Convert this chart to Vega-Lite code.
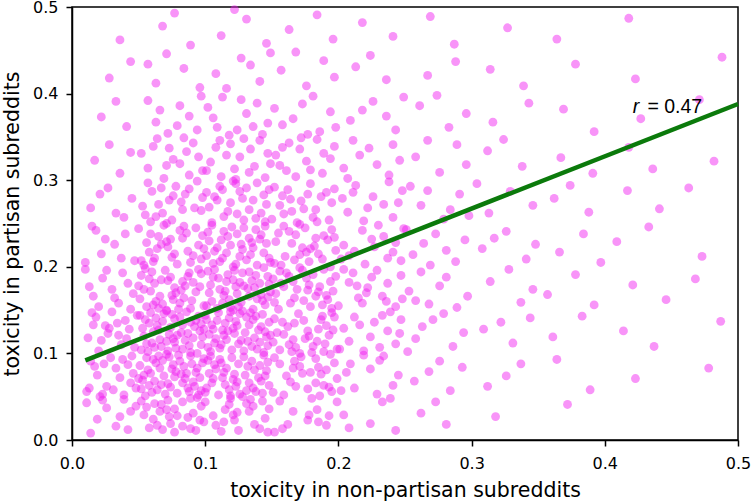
{
"$schema": "https://vega.github.io/schema/vega-lite/v6.json",
"width": 666, "height": 433,
"autosize": {"type": "none"},
"padding": {"left": 72, "top": 7, "right": 14, "bottom": 63},
"background": "white",
"config": {"view": {"stroke": "black", "strokeWidth": 1.5}, "font": "DejaVu Sans"},
"datasets": {
"pts": [
{"x":0.042,"y":0.012},{"x":0.023,"y":0.046},{"x":0.036,"y":0.027},{"x":0.014,"y":0.008},{"x":0.048,"y":0.039},{"x":0.019,"y":0.024},{"x":0.044,"y":0.033},{"x":0.011,"y":0.043},{"x":0.033,"y":0.016},{"x":0.026,"y":0.037},{"x":0.039,"y":0.047},
{"x":0.062,"y":0.042},{"x":0.096,"y":0.023},{"x":0.077,"y":0.036},{"x":0.058,"y":0.014},{"x":0.089,"y":0.048},{"x":0.054,"y":0.029},{"x":0.074,"y":0.019},{"x":0.083,"y":0.044},{"x":0.093,"y":0.011},{"x":0.066,"y":0.033},{"x":0.087,"y":0.026},{"x":0.097,"y":0.039},{"x":0.064,"y":0.017},{"x":0.072,"y":0.046},{"x":0.099,"y":0.021},{"x":0.077,"y":0.009},{"x":0.091,"y":0.031},{"x":0.056,"y":0.038},{"x":0.061,"y":0.024},{"x":0.089,"y":0.013},{"x":0.052,"y":0.045},{"x":0.079,"y":0.028},{"x":0.071,"y":0.035},{"x":0.083,"y":0.016},{"x":0.067,"y":0.041},{"x":0.073,"y":0.027},{"x":0.094,"y":0.049},{"x":0.068,"y":0.012},
{"x":0.118,"y":0.041},{"x":0.148,"y":0.036},{"x":0.125,"y":0.011},{"x":0.136,"y":0.039},{"x":0.121,"y":0.029},{"x":0.143,"y":0.045},{"x":0.114,"y":0.021},{"x":0.133,"y":0.033},{"x":0.108,"y":0.017},{"x":0.147,"y":0.009},{"x":0.122,"y":0.023},{"x":0.100,"y":0.044},{"x":0.137,"y":0.018},{"x":0.115,"y":0.035},{"x":0.106,"y":0.028},{"x":0.141,"y":0.013},{"x":0.119,"y":0.048},{"x":0.131,"y":0.042},{"x":0.124,"y":0.032},{"x":0.145,"y":0.025},{"x":0.112,"y":0.010},{"x":0.134,"y":0.047},
{"x":0.178,"y":0.029},{"x":0.156,"y":0.045},{"x":0.185,"y":0.021},{"x":0.166,"y":0.033},{"x":0.191,"y":0.017},{"x":0.152,"y":0.009},{"x":0.177,"y":0.023},{"x":0.199,"y":0.044},{"x":0.162,"y":0.018},{"x":0.184,"y":0.035},{"x":0.193,"y":0.028},{"x":0.158,"y":0.013},{"x":0.180,"y":0.048},
{"x":0.208,"y":0.014},{"x":0.239,"y":0.048},{"x":0.204,"y":0.029},{"x":0.224,"y":0.019},{"x":0.233,"y":0.044},{"x":0.243,"y":0.011},
{"x":0.262,"y":0.031},{"x":0.281,"y":0.018},{"x":0.273,"y":0.044},{"x":0.318,"y":0.027},{"x":0.372,"y":0.041},
{"x":0.042,"y":0.087},{"x":0.023,"y":0.053},{"x":0.036,"y":0.072},{"x":0.014,"y":0.091},{"x":0.048,"y":0.060},{"x":0.029,"y":0.095},{"x":0.019,"y":0.075},{"x":0.044,"y":0.066},{"x":0.011,"y":0.056},{"x":0.033,"y":0.083},{"x":0.026,"y":0.062},{"x":0.039,"y":0.052},{"x":0.017,"y":0.085},{"x":0.046,"y":0.077},{"x":0.021,"y":0.050},{"x":0.031,"y":0.058},{"x":0.038,"y":0.093},{"x":0.024,"y":0.088},{"x":0.013,"y":0.060},{"x":0.045,"y":0.097},
{"x":0.057,"y":0.081},{"x":0.092,"y":0.062},{"x":0.073,"y":0.096},{"x":0.086,"y":0.077},{"x":0.064,"y":0.058},{"x":0.098,"y":0.089},{"x":0.053,"y":0.069},{"x":0.079,"y":0.054},{"x":0.069,"y":0.074},{"x":0.094,"y":0.083},{"x":0.061,"y":0.093},{"x":0.083,"y":0.066},{"x":0.076,"y":0.087},{"x":0.055,"y":0.051},{"x":0.089,"y":0.097},{"x":0.067,"y":0.064},{"x":0.096,"y":0.072},{"x":0.071,"y":0.099},{"x":0.059,"y":0.077},{"x":0.081,"y":0.091},{"x":0.051,"y":0.086},{"x":0.088,"y":0.056},{"x":0.074,"y":0.061},{"x":0.063,"y":0.089},{"x":0.095,"y":0.052},{"x":0.078,"y":0.079},{"x":0.056,"y":0.095},{"x":0.085,"y":0.071},{"x":0.066,"y":0.083},{"x":0.091,"y":0.067},{"x":0.052,"y":0.059},{"x":0.077,"y":0.073},{"x":0.099,"y":0.094},{"x":0.062,"y":0.068},{"x":0.084,"y":0.085},{"x":0.070,"y":0.053},{"x":0.093,"y":0.078},{"x":0.058,"y":0.063},{"x":0.080,"y":0.098},{"x":0.068,"y":0.092},{"x":0.097,"y":0.057},{"x":0.075,"y":0.082},{"x":0.054,"y":0.075},{"x":0.087,"y":0.060},{"x":0.065,"y":0.097},{"x":0.090,"y":0.088},{"x":0.072,"y":0.065},{"x":0.060,"y":0.055},{"x":0.082,"y":0.076},{"x":0.050,"y":0.071},
{"x":0.142,"y":0.068},{"x":0.107,"y":0.087},{"x":0.126,"y":0.053},{"x":0.113,"y":0.072},{"x":0.135,"y":0.091},{"x":0.101,"y":0.060},{"x":0.146,"y":0.080},{"x":0.120,"y":0.095},{"x":0.130,"y":0.075},{"x":0.105,"y":0.066},{"x":0.138,"y":0.056},{"x":0.116,"y":0.083},{"x":0.123,"y":0.062},{"x":0.144,"y":0.098},{"x":0.110,"y":0.052},{"x":0.132,"y":0.085},{"x":0.103,"y":0.077},{"x":0.128,"y":0.050},{"x":0.140,"y":0.072},{"x":0.118,"y":0.058},{"x":0.148,"y":0.063},{"x":0.111,"y":0.093},{"x":0.125,"y":0.088},{"x":0.136,"y":0.060},{"x":0.104,"y":0.097},{"x":0.121,"y":0.070},{"x":0.143,"y":0.054},{"x":0.114,"y":0.078},{"x":0.133,"y":0.066},{"x":0.108,"y":0.082},{"x":0.147,"y":0.090},{"x":0.122,"y":0.076},{"x":0.100,"y":0.055},{"x":0.137,"y":0.081},{"x":0.115,"y":0.064},{"x":0.129,"y":0.096},{"x":0.106,"y":0.071},{"x":0.141,"y":0.086},{"x":0.119,"y":0.051},{"x":0.131,"y":0.057},{"x":0.102,"y":0.092},{"x":0.124,"y":0.067},{"x":0.145,"y":0.074},{"x":0.112,"y":0.089},
{"x":0.183,"y":0.094},{"x":0.193,"y":0.061},{"x":0.166,"y":0.083},{"x":0.187,"y":0.076},{"x":0.151,"y":0.055},{"x":0.197,"y":0.089},{"x":0.164,"y":0.067},{"x":0.172,"y":0.096},{"x":0.199,"y":0.071},{"x":0.177,"y":0.059},{"x":0.191,"y":0.081},{"x":0.186,"y":0.051},{"x":0.156,"y":0.088},{"x":0.161,"y":0.074},{"x":0.189,"y":0.063},{"x":0.152,"y":0.095},{"x":0.179,"y":0.078},{"x":0.195,"y":0.056},{"x":0.171,"y":0.085},{"x":0.183,"y":0.066},{"x":0.167,"y":0.091},{"x":0.159,"y":0.052},{"x":0.173,"y":0.077},{"x":0.194,"y":0.099},{"x":0.168,"y":0.062},{"x":0.185,"y":0.084},
{"x":0.229,"y":0.053},{"x":0.206,"y":0.078},{"x":0.241,"y":0.063},{"x":0.219,"y":0.098},{"x":0.231,"y":0.092},{"x":0.202,"y":0.057},{"x":0.224,"y":0.082},{"x":0.245,"y":0.075},{"x":0.212,"y":0.060},{"x":0.234,"y":0.097},{"x":0.209,"y":0.088},
{"x":0.257,"y":0.068},{"x":0.276,"y":0.091},{"x":0.284,"y":0.057},{"x":0.268,"y":0.079},{"x":0.293,"y":0.084},{"x":0.312,"y":0.062},{"x":0.337,"y":0.088},{"x":0.326,"y":0.074},{"x":0.364,"y":0.093},{"x":0.389,"y":0.058},{"x":0.423,"y":0.071},{"x":0.478,"y":0.083},
{"x":0.028,"y":0.129},{"x":0.035,"y":0.121},{"x":0.016,"y":0.133},{"x":0.041,"y":0.117},{"x":0.027,"y":0.123},{"x":0.049,"y":0.144},{"x":0.012,"y":0.118},{"x":0.034,"y":0.135},{"x":0.020,"y":0.103},{"x":0.043,"y":0.128},{"x":0.030,"y":0.148},{"x":0.018,"y":0.142},{"x":0.047,"y":0.107},{"x":0.025,"y":0.132},{"x":0.037,"y":0.110},{"x":0.015,"y":0.147},{"x":0.040,"y":0.138},{"x":0.022,"y":0.115},
{"x":0.081,"y":0.142},{"x":0.062,"y":0.107},{"x":0.096,"y":0.126},{"x":0.077,"y":0.113},{"x":0.058,"y":0.135},{"x":0.089,"y":0.101},{"x":0.069,"y":0.146},{"x":0.054,"y":0.120},{"x":0.074,"y":0.130},{"x":0.083,"y":0.105},{"x":0.093,"y":0.138},{"x":0.066,"y":0.116},{"x":0.087,"y":0.123},{"x":0.051,"y":0.144},{"x":0.097,"y":0.110},{"x":0.064,"y":0.132},{"x":0.072,"y":0.103},{"x":0.099,"y":0.128},{"x":0.077,"y":0.140},{"x":0.091,"y":0.118},{"x":0.086,"y":0.148},{"x":0.056,"y":0.111},{"x":0.061,"y":0.125},{"x":0.089,"y":0.136},{"x":0.052,"y":0.104},{"x":0.079,"y":0.121},{"x":0.095,"y":0.143},{"x":0.071,"y":0.114},{"x":0.083,"y":0.133},{"x":0.067,"y":0.108},{"x":0.059,"y":0.147},{"x":0.073,"y":0.122},{"x":0.094,"y":0.100},{"x":0.068,"y":0.137},{"x":0.085,"y":0.115},{"x":0.053,"y":0.129},{"x":0.078,"y":0.106},{"x":0.063,"y":0.141},{"x":0.098,"y":0.119},{"x":0.092,"y":0.131},{"x":0.057,"y":0.102},{"x":0.082,"y":0.124},{"x":0.075,"y":0.145},{"x":0.060,"y":0.112},{"x":0.097,"y":0.134},{"x":0.088,"y":0.109},{"x":0.065,"y":0.127},{"x":0.055,"y":0.139},{"x":0.076,"y":0.117},{"x":0.071,"y":0.149},
{"x":0.142,"y":0.131},{"x":0.107,"y":0.112},{"x":0.126,"y":0.146},{"x":0.113,"y":0.127},{"x":0.135,"y":0.108},{"x":0.101,"y":0.139},{"x":0.146,"y":0.119},{"x":0.120,"y":0.104},{"x":0.130,"y":0.124},{"x":0.105,"y":0.133},{"x":0.138,"y":0.143},{"x":0.116,"y":0.116},{"x":0.123,"y":0.137},{"x":0.144,"y":0.101},{"x":0.110,"y":0.147},{"x":0.132,"y":0.114},{"x":0.103,"y":0.122},{"x":0.128,"y":0.149},{"x":0.140,"y":0.127},{"x":0.118,"y":0.141},{"x":0.148,"y":0.136},{"x":0.111,"y":0.106},{"x":0.125,"y":0.111},{"x":0.136,"y":0.139},{"x":0.104,"y":0.102},{"x":0.121,"y":0.129},{"x":0.143,"y":0.145},{"x":0.114,"y":0.121},{"x":0.133,"y":0.133},{"x":0.108,"y":0.117},{"x":0.147,"y":0.109},{"x":0.122,"y":0.123},{"x":0.100,"y":0.144},{"x":0.137,"y":0.118},{"x":0.115,"y":0.135},{"x":0.129,"y":0.103},{"x":0.106,"y":0.128},{"x":0.141,"y":0.113},{"x":0.119,"y":0.148},{"x":0.131,"y":0.142},{"x":0.102,"y":0.107},{"x":0.124,"y":0.132},{"x":0.145,"y":0.125},{"x":0.112,"y":0.110},{"x":0.134,"y":0.147},{"x":0.109,"y":0.138},{"x":0.127,"y":0.115},{"x":0.139,"y":0.105},{"x":0.117,"y":0.126},{"x":0.149,"y":0.121},
{"x":0.189,"y":0.102},{"x":0.167,"y":0.135},{"x":0.196,"y":0.127},{"x":0.171,"y":0.100},{"x":0.159,"y":0.122},{"x":0.181,"y":0.108},{"x":0.151,"y":0.113},{"x":0.188,"y":0.143},{"x":0.174,"y":0.138},{"x":0.163,"y":0.110},{"x":0.195,"y":0.147},{"x":0.178,"y":0.120},{"x":0.156,"y":0.104},{"x":0.185,"y":0.128},{"x":0.166,"y":0.116},{"x":0.191,"y":0.132},{"x":0.152,"y":0.140},{"x":0.177,"y":0.126},{"x":0.199,"y":0.105},{"x":0.162,"y":0.131},{"x":0.184,"y":0.114},{"x":0.170,"y":0.146},{"x":0.193,"y":0.121},{"x":0.158,"y":0.136},{"x":0.180,"y":0.101},{"x":0.168,"y":0.107},{"x":0.197,"y":0.142},{"x":0.175,"y":0.117},{"x":0.154,"y":0.124},{"x":0.187,"y":0.139},{"x":0.165,"y":0.102},{"x":0.190,"y":0.111},
{"x":0.231,"y":0.107},{"x":0.212,"y":0.142},{"x":0.246,"y":0.123},{"x":0.227,"y":0.136},{"x":0.208,"y":0.114},{"x":0.239,"y":0.148},{"x":0.219,"y":0.103},{"x":0.204,"y":0.129},{"x":0.224,"y":0.119},{"x":0.233,"y":0.144},{"x":0.243,"y":0.111},{"x":0.216,"y":0.133},{"x":0.237,"y":0.126},{"x":0.201,"y":0.105},{"x":0.247,"y":0.139},
{"x":0.258,"y":0.117},{"x":0.271,"y":0.139},{"x":0.286,"y":0.108},{"x":0.263,"y":0.131},{"x":0.294,"y":0.124},{"x":0.279,"y":0.146},{"x":0.252,"y":0.102},{"x":0.309,"y":0.128},{"x":0.331,"y":0.112},{"x":0.344,"y":0.141},{"x":0.322,"y":0.136},{"x":0.361,"y":0.119},{"x":0.383,"y":0.143},{"x":0.414,"y":0.126},{"x":0.437,"y":0.108},{"x":0.487,"y":0.137},
{"x":0.042,"y":0.181},{"x":0.026,"y":0.196},{"x":0.013,"y":0.177},{"x":0.035,"y":0.158},{"x":0.046,"y":0.169},{"x":0.020,"y":0.154},{"x":0.030,"y":0.174},{"x":0.038,"y":0.193},{"x":0.016,"y":0.166},{"x":0.023,"y":0.187},{"x":0.044,"y":0.151},{"x":0.010,"y":0.197},{"x":0.032,"y":0.164},
{"x":0.061,"y":0.156},{"x":0.083,"y":0.183},{"x":0.076,"y":0.162},{"x":0.055,"y":0.198},{"x":0.089,"y":0.152},{"x":0.067,"y":0.185},{"x":0.096,"y":0.177},{"x":0.071,"y":0.150},{"x":0.059,"y":0.172},{"x":0.081,"y":0.158},{"x":0.051,"y":0.163},{"x":0.088,"y":0.193},{"x":0.074,"y":0.188},{"x":0.063,"y":0.160},{"x":0.095,"y":0.197},{"x":0.078,"y":0.170},{"x":0.056,"y":0.154},{"x":0.085,"y":0.178},{"x":0.066,"y":0.166},{"x":0.091,"y":0.182},{"x":0.052,"y":0.190},{"x":0.077,"y":0.176},{"x":0.099,"y":0.155},{"x":0.062,"y":0.181},{"x":0.084,"y":0.164},{"x":0.070,"y":0.196},{"x":0.093,"y":0.171},{"x":0.058,"y":0.186},{"x":0.080,"y":0.151},{"x":0.068,"y":0.157},{"x":0.097,"y":0.192},{"x":0.075,"y":0.167},{"x":0.054,"y":0.174},{"x":0.087,"y":0.189},{"x":0.065,"y":0.152},{"x":0.090,"y":0.161},{"x":0.072,"y":0.184},{"x":0.060,"y":0.194},{"x":0.082,"y":0.173},{"x":0.050,"y":0.178},
{"x":0.119,"y":0.153},{"x":0.104,"y":0.179},{"x":0.124,"y":0.169},{"x":0.133,"y":0.194},{"x":0.143,"y":0.161},{"x":0.116,"y":0.183},{"x":0.137,"y":0.176},{"x":0.101,"y":0.155},{"x":0.147,"y":0.189},{"x":0.114,"y":0.167},{"x":0.122,"y":0.196},{"x":0.149,"y":0.171},{"x":0.127,"y":0.159},{"x":0.141,"y":0.181},{"x":0.136,"y":0.151},{"x":0.106,"y":0.188},{"x":0.111,"y":0.174},{"x":0.139,"y":0.163},{"x":0.102,"y":0.195},{"x":0.129,"y":0.178},{"x":0.145,"y":0.156},{"x":0.121,"y":0.185},{"x":0.133,"y":0.166},{"x":0.117,"y":0.191},{"x":0.109,"y":0.152},{"x":0.123,"y":0.177},{"x":0.144,"y":0.199},{"x":0.118,"y":0.162},{"x":0.135,"y":0.184},{"x":0.103,"y":0.170},{"x":0.128,"y":0.193},{"x":0.113,"y":0.158},{"x":0.148,"y":0.180},{"x":0.142,"y":0.168},{"x":0.107,"y":0.197},{"x":0.132,"y":0.175},{"x":0.125,"y":0.154},{"x":0.110,"y":0.187},{"x":0.147,"y":0.165},{"x":0.138,"y":0.190},{"x":0.115,"y":0.172},{"x":0.105,"y":0.160},{"x":0.126,"y":0.182},{"x":0.121,"y":0.150},
{"x":0.157,"y":0.181},{"x":0.192,"y":0.162},{"x":0.173,"y":0.196},{"x":0.186,"y":0.177},{"x":0.164,"y":0.158},{"x":0.198,"y":0.189},{"x":0.153,"y":0.169},{"x":0.179,"y":0.154},{"x":0.169,"y":0.174},{"x":0.194,"y":0.183},{"x":0.161,"y":0.193},{"x":0.183,"y":0.166},{"x":0.176,"y":0.187},{"x":0.155,"y":0.151},{"x":0.189,"y":0.197},{"x":0.167,"y":0.164},{"x":0.196,"y":0.172},{"x":0.171,"y":0.199},{"x":0.159,"y":0.177},{"x":0.181,"y":0.191},{"x":0.151,"y":0.186},{"x":0.188,"y":0.156},{"x":0.174,"y":0.161},{"x":0.163,"y":0.189},{"x":0.195,"y":0.152},{"x":0.178,"y":0.179},{"x":0.156,"y":0.195},{"x":0.185,"y":0.171},{"x":0.166,"y":0.183},{"x":0.191,"y":0.167},{"x":0.152,"y":0.159},{"x":0.177,"y":0.173},
{"x":0.218,"y":0.158},{"x":0.248,"y":0.163},{"x":0.211,"y":0.193},{"x":0.225,"y":0.188},{"x":0.236,"y":0.160},{"x":0.204,"y":0.197},{"x":0.221,"y":0.170},{"x":0.243,"y":0.154},{"x":0.214,"y":0.178},{"x":0.233,"y":0.166},{"x":0.208,"y":0.182},{"x":0.247,"y":0.190},{"x":0.222,"y":0.176},{"x":0.200,"y":0.155},{"x":0.237,"y":0.181},{"x":0.215,"y":0.164},{"x":0.229,"y":0.196},
{"x":0.253,"y":0.172},{"x":0.268,"y":0.157},{"x":0.281,"y":0.188},{"x":0.297,"y":0.166},{"x":0.262,"y":0.194},{"x":0.276,"y":0.178},{"x":0.289,"y":0.153},{"x":0.258,"y":0.161},{"x":0.314,"y":0.183},{"x":0.337,"y":0.159},{"x":0.328,"y":0.197},{"x":0.346,"y":0.174},{"x":0.357,"y":0.168},{"x":0.378,"y":0.191},{"x":0.392,"y":0.156},{"x":0.421,"y":0.179},{"x":0.446,"y":0.162},{"x":0.468,"y":0.186},
{"x":0.018,"y":0.242},{"x":0.047,"y":0.207},{"x":0.025,"y":0.232},{"x":0.037,"y":0.210},{"x":0.015,"y":0.247},{"x":0.040,"y":0.238},{"x":0.022,"y":0.215},{"x":0.010,"y":0.205},{"x":0.032,"y":0.226},
{"x":0.098,"y":0.236},{"x":0.061,"y":0.206},{"x":0.075,"y":0.211},{"x":0.086,"y":0.239},{"x":0.054,"y":0.202},{"x":0.071,"y":0.229},{"x":0.093,"y":0.245},{"x":0.064,"y":0.221},{"x":0.083,"y":0.233},{"x":0.058,"y":0.217},{"x":0.097,"y":0.209},{"x":0.072,"y":0.223},{"x":0.050,"y":0.244},{"x":0.087,"y":0.218},{"x":0.065,"y":0.235},{"x":0.079,"y":0.203},{"x":0.056,"y":0.228},{"x":0.091,"y":0.213},{"x":0.069,"y":0.248},{"x":0.081,"y":0.242},{"x":0.052,"y":0.207},{"x":0.074,"y":0.232},{"x":0.095,"y":0.225},{"x":0.062,"y":0.210},{"x":0.084,"y":0.247},{"x":0.059,"y":0.238},{"x":0.077,"y":0.215},{"x":0.089,"y":0.205},{"x":0.067,"y":0.226},{"x":0.099,"y":0.221},
{"x":0.107,"y":0.218},{"x":0.142,"y":0.237},{"x":0.123,"y":0.203},{"x":0.136,"y":0.222},{"x":0.114,"y":0.241},{"x":0.148,"y":0.210},{"x":0.103,"y":0.230},{"x":0.129,"y":0.245},{"x":0.119,"y":0.225},{"x":0.144,"y":0.216},{"x":0.111,"y":0.206},{"x":0.133,"y":0.233},{"x":0.126,"y":0.212},{"x":0.105,"y":0.248},{"x":0.139,"y":0.202},{"x":0.117,"y":0.235},{"x":0.146,"y":0.227},{"x":0.121,"y":0.200},{"x":0.109,"y":0.222},{"x":0.131,"y":0.208},{"x":0.101,"y":0.213},{"x":0.138,"y":0.243},{"x":0.124,"y":0.238},{"x":0.113,"y":0.210},{"x":0.145,"y":0.247},{"x":0.128,"y":0.220},{"x":0.106,"y":0.204},{"x":0.135,"y":0.228},{"x":0.116,"y":0.216},{"x":0.141,"y":0.232},{"x":0.102,"y":0.240},{"x":0.127,"y":0.226},{"x":0.149,"y":0.205},{"x":0.112,"y":0.231},{"x":0.134,"y":0.214},{"x":0.120,"y":0.246},
{"x":0.189,"y":0.236},{"x":0.152,"y":0.204},{"x":0.179,"y":0.221},{"x":0.195,"y":0.243},{"x":0.171,"y":0.214},{"x":0.183,"y":0.233},{"x":0.167,"y":0.208},{"x":0.159,"y":0.247},{"x":0.173,"y":0.222},{"x":0.194,"y":0.200},{"x":0.168,"y":0.237},{"x":0.185,"y":0.215},{"x":0.153,"y":0.229},{"x":0.178,"y":0.206},{"x":0.163,"y":0.241},{"x":0.198,"y":0.219},{"x":0.192,"y":0.231},{"x":0.157,"y":0.202},{"x":0.182,"y":0.224},{"x":0.175,"y":0.245},{"x":0.160,"y":0.212},{"x":0.197,"y":0.234},{"x":0.188,"y":0.209},{"x":0.165,"y":0.227},{"x":0.155,"y":0.239},{"x":0.176,"y":0.217},{"x":0.171,"y":0.249},
{"x":0.241,"y":0.217},{"x":0.202,"y":0.209},{"x":0.227,"y":0.223},{"x":0.249,"y":0.244},{"x":0.212,"y":0.218},{"x":0.234,"y":0.235},{"x":0.220,"y":0.203},{"x":0.243,"y":0.228},{"x":0.208,"y":0.213},{"x":0.230,"y":0.248},{"x":0.218,"y":0.242},{"x":0.247,"y":0.207},{"x":0.225,"y":0.232},{"x":0.204,"y":0.225},{"x":0.237,"y":0.210},
{"x":0.256,"y":0.214},{"x":0.273,"y":0.238},{"x":0.288,"y":0.206},{"x":0.264,"y":0.227},{"x":0.295,"y":0.231},{"x":0.281,"y":0.219},{"x":0.251,"y":0.243},{"x":0.269,"y":0.202},{"x":0.308,"y":0.221},{"x":0.326,"y":0.241},{"x":0.341,"y":0.209},{"x":0.317,"y":0.233},{"x":0.348,"y":0.226},{"x":0.366,"y":0.217},{"x":0.384,"y":0.238},{"x":0.397,"y":0.205},{"x":0.409,"y":0.229},{"x":0.433,"y":0.246},{"x":0.473,"y":0.212},
{"x":0.014,"y":0.268},{"x":0.027,"y":0.291},{"x":0.039,"y":0.257},{"x":0.045,"y":0.279},{"x":0.021,"y":0.284},{"x":0.033,"y":0.262},
{"x":0.083,"y":0.266},{"x":0.067,"y":0.291},{"x":0.059,"y":0.252},{"x":0.073,"y":0.277},{"x":0.094,"y":0.299},{"x":0.068,"y":0.262},{"x":0.085,"y":0.284},{"x":0.053,"y":0.270},{"x":0.078,"y":0.293},{"x":0.063,"y":0.258},{"x":0.098,"y":0.280},{"x":0.092,"y":0.268},{"x":0.057,"y":0.297},{"x":0.082,"y":0.275},{"x":0.075,"y":0.254},{"x":0.060,"y":0.287},{"x":0.097,"y":0.265},{"x":0.088,"y":0.290},{"x":0.065,"y":0.272},{"x":0.055,"y":0.260},{"x":0.076,"y":0.282},{"x":0.071,"y":0.250},
{"x":0.107,"y":0.281},{"x":0.142,"y":0.262},{"x":0.123,"y":0.296},{"x":0.136,"y":0.277},{"x":0.114,"y":0.258},{"x":0.148,"y":0.289},{"x":0.103,"y":0.269},{"x":0.129,"y":0.254},{"x":0.119,"y":0.274},{"x":0.144,"y":0.283},{"x":0.111,"y":0.293},{"x":0.133,"y":0.266},{"x":0.126,"y":0.287},{"x":0.105,"y":0.251},{"x":0.139,"y":0.297},{"x":0.117,"y":0.264},{"x":0.146,"y":0.272},{"x":0.121,"y":0.299},{"x":0.109,"y":0.277},{"x":0.131,"y":0.291},{"x":0.101,"y":0.286},{"x":0.138,"y":0.256},{"x":0.124,"y":0.261},{"x":0.113,"y":0.289},{"x":0.145,"y":0.252},{"x":0.128,"y":0.279},
{"x":0.193,"y":0.254},{"x":0.164,"y":0.278},{"x":0.183,"y":0.266},{"x":0.158,"y":0.282},{"x":0.197,"y":0.290},{"x":0.172,"y":0.276},{"x":0.150,"y":0.255},{"x":0.187,"y":0.281},{"x":0.165,"y":0.264},{"x":0.179,"y":0.296},{"x":0.156,"y":0.271},{"x":0.191,"y":0.286},{"x":0.169,"y":0.251},{"x":0.181,"y":0.257},{"x":0.152,"y":0.292},{"x":0.174,"y":0.267},{"x":0.195,"y":0.274},{"x":0.162,"y":0.289},{"x":0.184,"y":0.252},{"x":0.159,"y":0.261},{"x":0.177,"y":0.284},
{"x":0.207,"y":0.263},{"x":0.226,"y":0.281},{"x":0.241,"y":0.257},{"x":0.213,"y":0.294},{"x":0.234,"y":0.272},{"x":0.248,"y":0.288},{"x":0.219,"y":0.253},{"x":0.203,"y":0.279},{"x":0.238,"y":0.298},{"x":0.222,"y":0.268},{"x":0.245,"y":0.274},{"x":0.211,"y":0.286},
{"x":0.262,"y":0.271},{"x":0.279,"y":0.255},{"x":0.291,"y":0.284},{"x":0.254,"y":0.293},{"x":0.284,"y":0.266},{"x":0.267,"y":0.288},{"x":0.298,"y":0.259},{"x":0.313,"y":0.262},{"x":0.329,"y":0.287},{"x":0.346,"y":0.271},{"x":0.304,"y":0.296},{"x":0.362,"y":0.279},{"x":0.388,"y":0.263},{"x":0.374,"y":0.294},{"x":0.417,"y":0.288},{"x":0.441,"y":0.267},{"x":0.463,"y":0.291},
{"x":0.017,"y":0.323},{"x":0.036,"y":0.308},{"x":0.028,"y":0.341},{"x":0.044,"y":0.332},
{"x":0.057,"y":0.314},{"x":0.073,"y":0.337},{"x":0.088,"y":0.306},{"x":0.064,"y":0.348},{"x":0.095,"y":0.327},{"x":0.081,"y":0.319},{"x":0.052,"y":0.331},{"x":0.069,"y":0.302},{"x":0.091,"y":0.343},{"x":0.076,"y":0.324},{"x":0.084,"y":0.349},{"x":0.061,"y":0.339},{"x":0.098,"y":0.311},{"x":0.071,"y":0.317},{"x":0.086,"y":0.333},
{"x":0.104,"y":0.321},{"x":0.119,"y":0.342},{"x":0.133,"y":0.309},{"x":0.147,"y":0.331},{"x":0.112,"y":0.304},{"x":0.126,"y":0.327},{"x":0.141,"y":0.346},{"x":0.108,"y":0.338},{"x":0.137,"y":0.316},{"x":0.122,"y":0.313},{"x":0.145,"y":0.303},{"x":0.116,"y":0.329},{"x":0.129,"y":0.348},{"x":0.101,"y":0.311},{"x":0.149,"y":0.319},{"x":0.134,"y":0.336},{"x":0.123,"y":0.301},{"x":0.111,"y":0.346},
{"x":0.156,"y":0.317},{"x":0.171,"y":0.336},{"x":0.188,"y":0.308},{"x":0.163,"y":0.343},{"x":0.194,"y":0.325},{"x":0.179,"y":0.312},{"x":0.153,"y":0.329},{"x":0.184,"y":0.347},{"x":0.168,"y":0.304},{"x":0.197,"y":0.339},{"x":0.176,"y":0.322},{"x":0.161,"y":0.311},{"x":0.189,"y":0.331},{"x":0.172,"y":0.349},{"x":0.158,"y":0.338},
{"x":0.204,"y":0.314},{"x":0.223,"y":0.337},{"x":0.238,"y":0.306},{"x":0.211,"y":0.346},{"x":0.246,"y":0.323},{"x":0.229,"y":0.318},{"x":0.216,"y":0.329},{"x":0.241,"y":0.341},{"x":0.207,"y":0.302},
{"x":0.258,"y":0.327},{"x":0.276,"y":0.309},{"x":0.289,"y":0.341},{"x":0.267,"y":0.346},{"x":0.296,"y":0.318},{"x":0.312,"y":0.334},{"x":0.338,"y":0.316},{"x":0.324,"y":0.347},{"x":0.367,"y":0.326},{"x":0.391,"y":0.308},{"x":0.418,"y":0.338},{"x":0.436,"y":0.313},{"x":0.482,"y":0.322},
{"x":0.022,"y":0.373},{"x":0.041,"y":0.362},{"x":0.033,"y":0.391},
{"x":0.063,"y":0.367},{"x":0.081,"y":0.386},{"x":0.094,"y":0.358},{"x":0.057,"y":0.392},{"x":0.072,"y":0.354},{"x":0.088,"y":0.374},{"x":0.066,"y":0.381},{"x":0.097,"y":0.397},{"x":0.079,"y":0.363},
{"x":0.106,"y":0.372},{"x":0.124,"y":0.358},{"x":0.139,"y":0.389},{"x":0.113,"y":0.396},{"x":0.147,"y":0.366},{"x":0.131,"y":0.377},{"x":0.118,"y":0.352},{"x":0.102,"y":0.384},{"x":0.143,"y":0.353},{"x":0.127,"y":0.393},{"x":0.136,"y":0.362},{"x":0.109,"y":0.361},
{"x":0.158,"y":0.364},{"x":0.173,"y":0.388},{"x":0.186,"y":0.356},{"x":0.194,"y":0.379},{"x":0.166,"y":0.371},{"x":0.181,"y":0.397},{"x":0.152,"y":0.383},{"x":0.177,"y":0.353},{"x":0.198,"y":0.361},
{"x":0.209,"y":0.369},{"x":0.226,"y":0.391},{"x":0.243,"y":0.358},{"x":0.218,"y":0.381},{"x":0.236,"y":0.374},{"x":0.249,"y":0.396},
{"x":0.261,"y":0.386},{"x":0.283,"y":0.361},{"x":0.274,"y":0.398},{"x":0.296,"y":0.377},{"x":0.316,"y":0.367},{"x":0.343,"y":0.389},{"x":0.369,"y":0.382},{"x":0.392,"y":0.356},{"x":0.427,"y":0.371},{"x":0.471,"y":0.393},
{"x":0.028,"y":0.418},{"x":0.044,"y":0.437},
{"x":0.063,"y":0.412},{"x":0.084,"y":0.429},{"x":0.071,"y":0.446},{"x":0.096,"y":0.407},{"x":0.057,"y":0.434},
{"x":0.108,"y":0.423},{"x":0.127,"y":0.441},{"x":0.141,"y":0.414},{"x":0.116,"y":0.406},{"x":0.134,"y":0.433},{"x":0.149,"y":0.447},
{"x":0.157,"y":0.427},{"x":0.176,"y":0.409},{"x":0.189,"y":0.438},{"x":0.168,"y":0.448},{"x":0.197,"y":0.419},
{"x":0.213,"y":0.431},{"x":0.236,"y":0.416},{"x":0.224,"y":0.444},{"x":0.267,"y":0.421},{"x":0.288,"y":0.437},{"x":0.314,"y":0.428},{"x":0.339,"y":0.409},{"x":0.378,"y":0.434},{"x":0.423,"y":0.417},{"x":0.488,"y":0.442},
{"x":0.036,"y":0.462},{"x":0.068,"y":0.478},{"x":0.089,"y":0.456},{"x":0.077,"y":0.493},{"x":0.112,"y":0.467},{"x":0.131,"y":0.486},{"x":0.146,"y":0.458},{"x":0.122,"y":0.497},{"x":0.163,"y":0.474},{"x":0.184,"y":0.491},{"x":0.196,"y":0.463},{"x":0.218,"y":0.482},{"x":0.241,"y":0.466},{"x":0.269,"y":0.489},{"x":0.287,"y":0.457},{"x":0.327,"y":0.476},{"x":0.364,"y":0.463},{"x":0.418,"y":0.487}
],
"fit": [{"x": 0.01, "y": 0.092}, {"x": 0.5, "y": 0.388}],
"annR": [{"x": 0.421, "y": 0.378, "t": "r"}],
"annV": [{"x": 0.432, "y": 0.378, "t": "= 0.47"}]
},
"layer": [
{
"data": {"name": "pts"},
"mark": {"type": "circle", "size": 78, "opacity": 0.48, "color": "#f020f0"},
"encoding": {
"x": {"field": "x", "type": "quantitative",
"scale": {"domain": [0, 0.5], "nice": false, "zero": false},
"axis": {"values": [0, 0.1, 0.2, 0.3, 0.4, 0.5], "format": ".1f", "grid": false,
"domainColor": "black", "domainWidth": 1.5, "tickColor": "black", "tickWidth": 1.5, "tickSize": 6,
"labelFont": "DejaVu Sans", "labelFontSize": 16, "labelColor": "black", "labelPadding": 9, "labelFlush": false, "labelOverlap": false,
"title": "toxicity in non-partisan subreddits", "titleFont": "DejaVu Sans", "titleFontSize": 20.5, "titleFontWeight": "normal", "titleColor": "black",
"titleBaseline": "alphabetic", "titleY": 56}},
"y": {"field": "y", "type": "quantitative",
"scale": {"domain": [0, 0.5], "nice": false, "zero": false},
"axis": {"values": [0, 0.1, 0.2, 0.3, 0.4, 0.5], "format": ".1f", "grid": false,
"domainColor": "black", "domainWidth": 1.5, "tickColor": "black", "tickWidth": 1.5, "tickSize": 6,
"labelFont": "DejaVu Sans", "labelFontSize": 16, "labelColor": "black", "labelPadding": 8, "labelFlush": false, "labelOverlap": false,
"title": "toxicity in partisan subreddits", "titleFont": "DejaVu Sans", "titleFontSize": 20.5, "titleFontWeight": "normal", "titleColor": "black",
"titleBaseline": "alphabetic", "titleX": -54}}
}
},
{
"data": {"name": "fit"},
"mark": {"type": "line", "color": "#0b7a0b", "strokeWidth": 4.5},
"encoding": {"x": {"field": "x", "type": "quantitative"}, "y": {"field": "y", "type": "quantitative"}}
},
{
"data": {"name": "annR"},
"mark": {"type": "text", "align": "left", "baseline": "alphabetic", "font": "Liberation Sans", "fontStyle": "italic", "fontSize": 19.5, "color": "black"},
"encoding": {"x": {"field": "x", "type": "quantitative"}, "y": {"field": "y", "type": "quantitative"}, "text": {"field": "t"}}
},
{
"data": {"name": "annV"},
"mark": {"type": "text", "align": "left", "baseline": "alphabetic", "font": "Liberation Sans", "fontSize": 19.5, "color": "black"},
"encoding": {"x": {"field": "x", "type": "quantitative"}, "y": {"field": "y", "type": "quantitative"}, "text": {"field": "t"}}
}
]
}
